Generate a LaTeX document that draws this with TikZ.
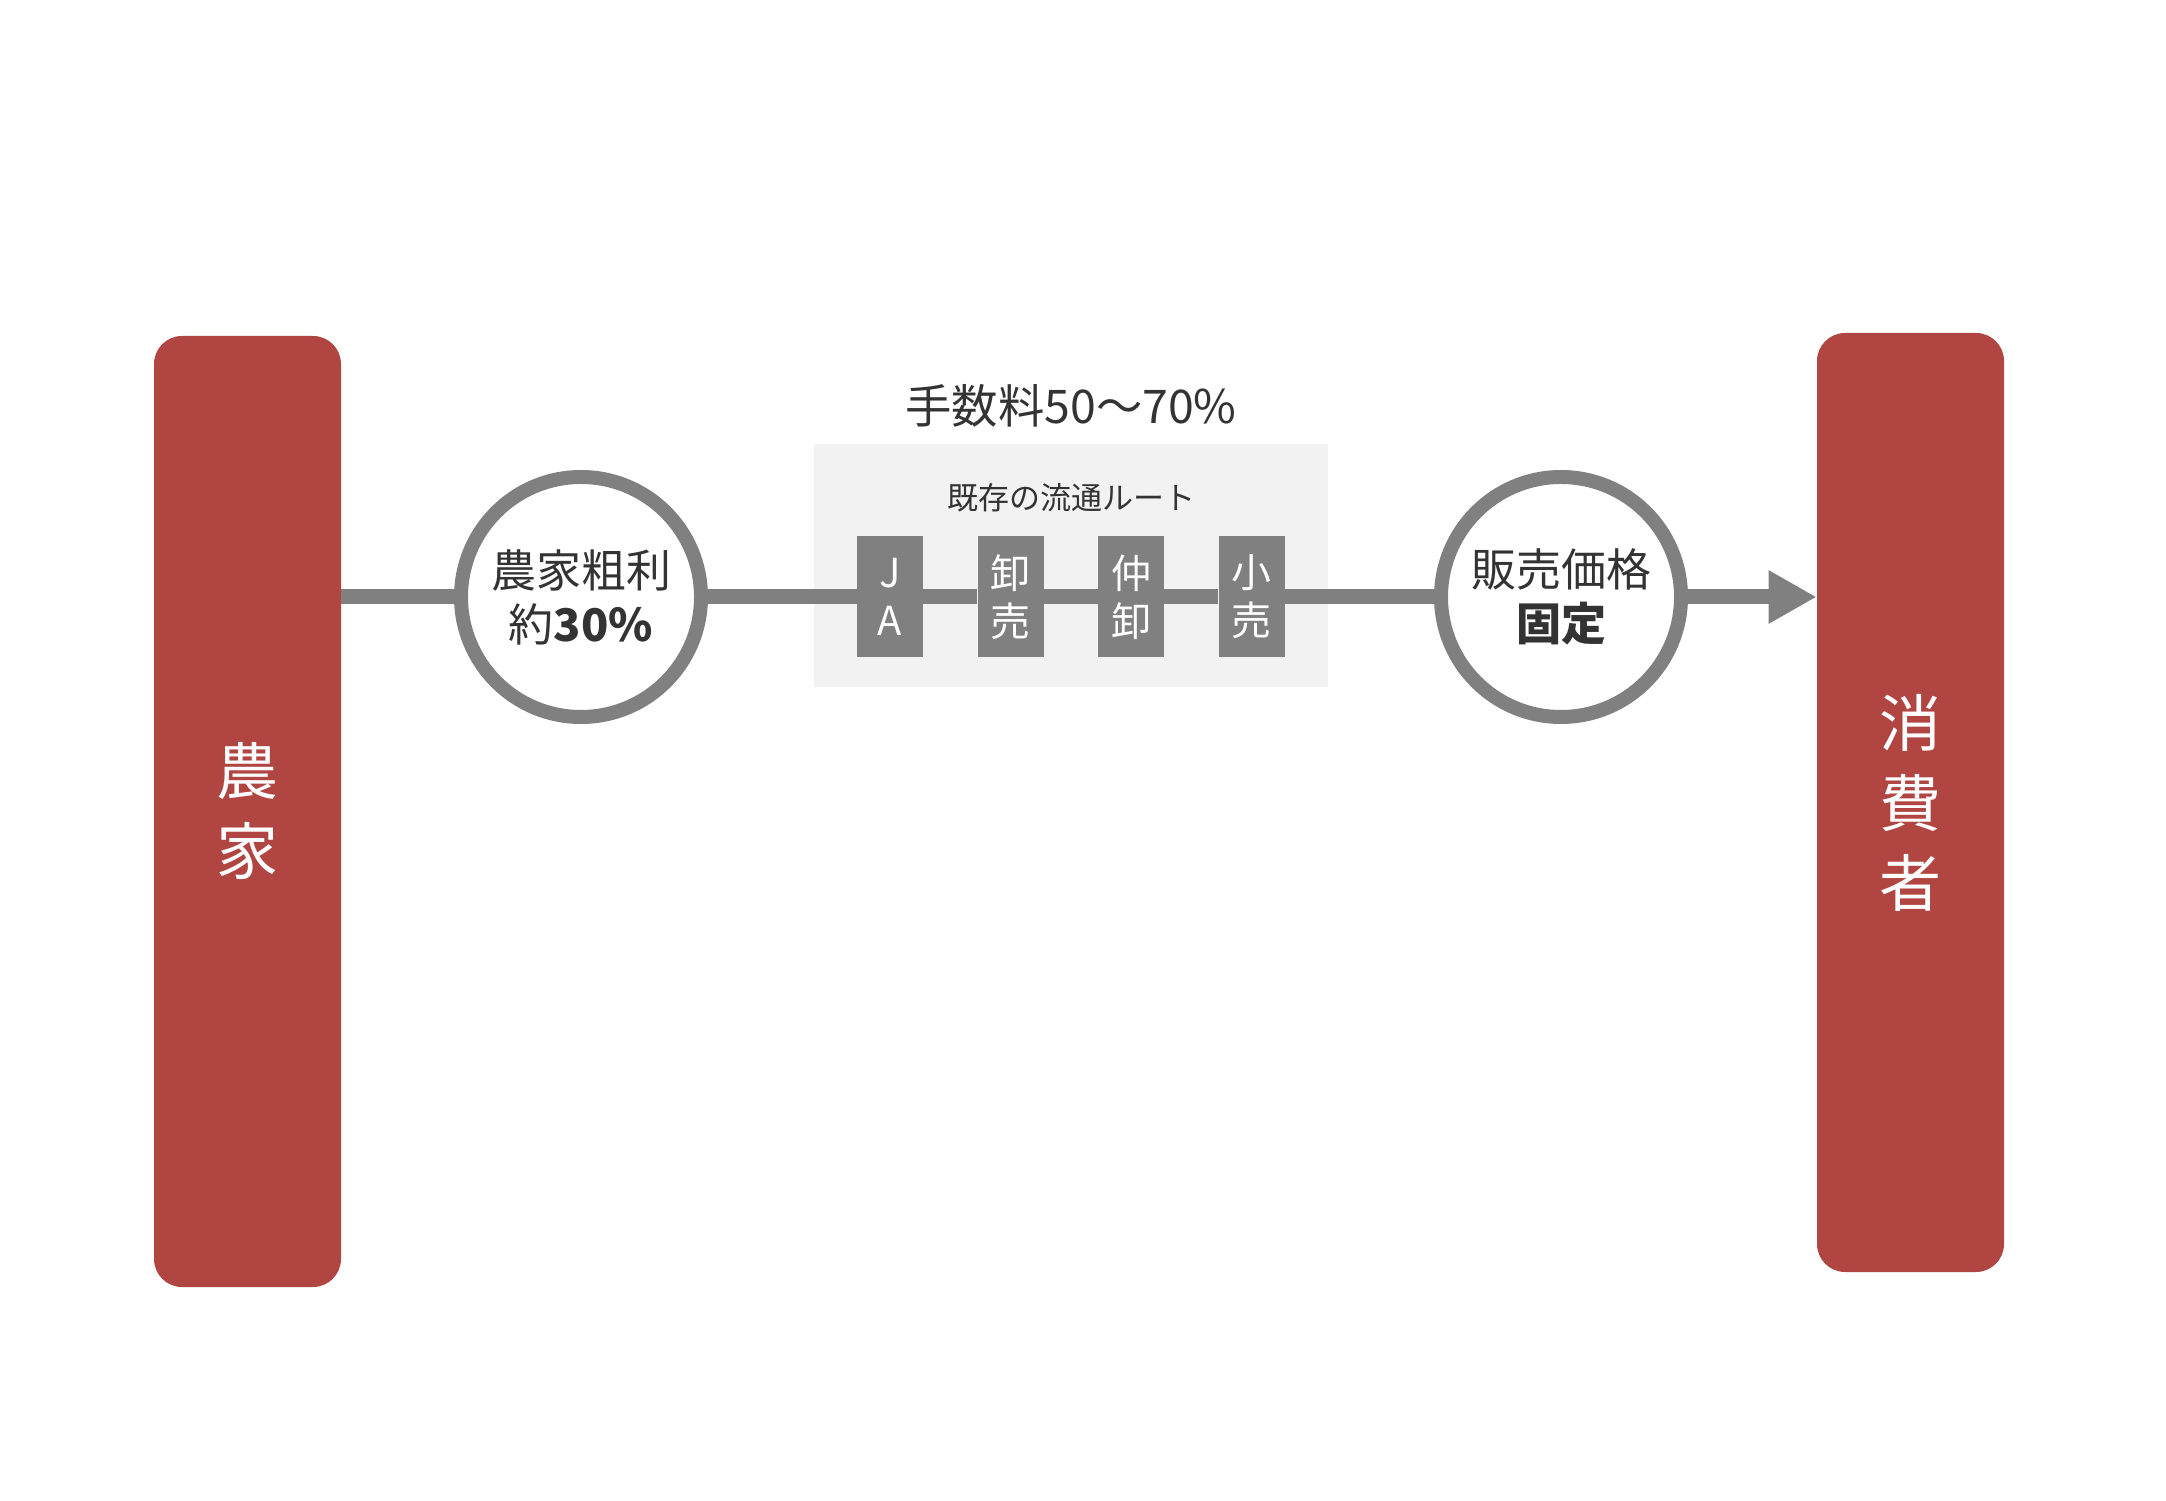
\documentclass[tikz,border=0pt]{standalone}
\usepackage{fontspec}
\setmainfont{Noto Sans CJK JP}
\usetikzlibrary{arrows.meta,positioning}
\definecolor{farmred}{HTML}{B04542}
\definecolor{flowgray}{HTML}{808080}
\definecolor{routebg}{HTML}{F2F2F2}
\definecolor{inkgray}{HTML}{333333}

\begin{document}
\begin{tikzpicture}[x=0.5pt,y=0.5pt,node distance=60.25pt,
    actor/.style={rectangle,rounded corners=14pt,fill=farmred,text=white,minimum width=93.5pt,
        inner sep=0pt,align=center,font=\fontsize{31}{40}\selectfont},
    ring/.style={circle,draw=flowgray,line width=7pt,fill=white,minimum size=120pt,inner sep=0pt,
        align=center,text=inkgray,font=\fontsize{22.5}{27}\selectfont},
    middleman/.style={rectangle,fill=flowgray,text=white,minimum width=33pt,minimum height=60.5pt,
        inner sep=0pt,align=center,font=\fontsize{20}{24}\selectfont},
    flow/.style={draw=flowgray,line width=7.5pt}]
    \useasboundingbox (0,0) rectangle (2166,1500);
    % Farmer and consumer
    \node[actor,minimum height=475.5pt] (farmer) at (247.5,688.5) {農\\家};
    \node[actor,minimum height=469.5pt] (consumer) at (1910.5,697.5) {消\\費\\者};
    
    % Existing route
    \node[fill=routebg,minimum width=257pt,minimum height=121.5pt] (route) at (1071,934.5) {};
    \node[text=inkgray,font=\fontsize{15.5}{18}\selectfont] (routename) at (1071,1002) {既存の流通ルート};
    \node[text=inkgray,font=\fontsize{23.2}{28}\selectfont] (fee) at (1071,1094) {手数料50〜70\%};
    \node[middleman] (ja) at (890,903) {J\\A};
    \node[middleman,right of=ja] (oroshi) {卸\\売};
    \node[middleman,right of=oroshi] (nakaoroshi) {仲\\卸};
    \node[middleman,right of=nakaoroshi] (kouri) {小\\売};
    
    % Margin and price
    \node[ring] (profit) at (581,903) {農家粗利\\約\textbf{30\%}};
    \node[ring] (price) at (1561,903) {販売価格\\\textbf{固定}};
    
    \path[flow]
        (profit -| farmer.east) -- (profit)
        (profit) -- (ja)
        (ja) -- (oroshi)
        (oroshi) -- (nakaoroshi)
        (nakaoroshi) -- (kouri)
        (kouri) -- (price);
    \draw[flow,-{Triangle[length=24pt,width=25pt]}] (price) -- (price -| consumer.west);
\end{tikzpicture}
\end{document}
